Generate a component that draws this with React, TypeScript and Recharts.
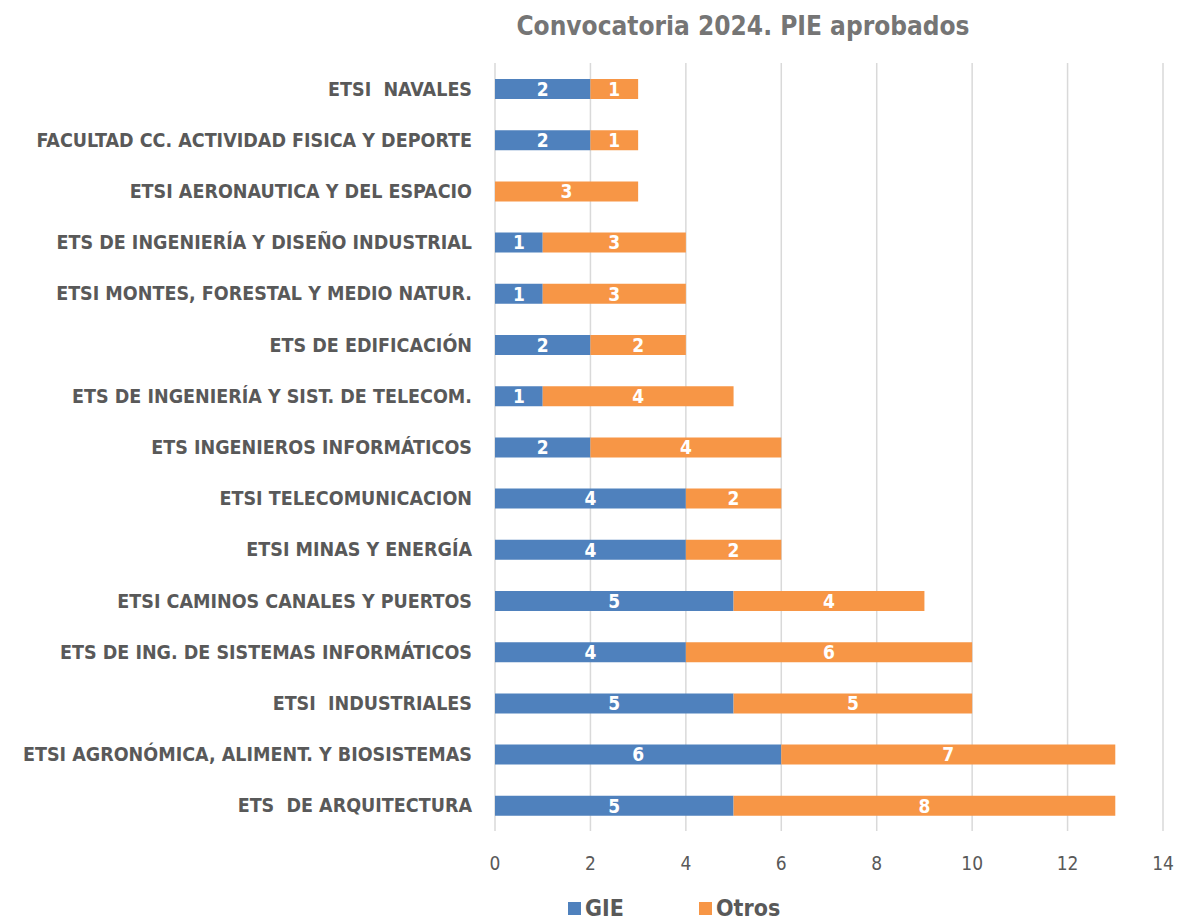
import { BarChart, Bar, XAxis, YAxis, CartesianGrid, Legend, LabelList } from "recharts";

const centros = [
  "ETSI  NAVALES",
  "FACULTAD CC. ACTIVIDAD FISICA Y DEPORTE",
  "ETSI AERONAUTICA Y DEL ESPACIO",
  "ETS DE INGENIERÍA Y DISEÑO INDUSTRIAL",
  "ETSI MONTES, FORESTAL Y MEDIO NATUR.",
  "ETS DE EDIFICACIÓN",
  "ETS DE INGENIERÍA Y SIST. DE TELECOM.",
  "ETS INGENIEROS INFORMÁTICOS",
  "ETSI TELECOMUNICACION",
  "ETSI MINAS Y ENERGÍA",
  "ETSI CAMINOS CANALES Y PUERTOS",
  "ETS DE ING. DE SISTEMAS INFORMÁTICOS",
  "ETSI  INDUSTRIALES",
  "ETSI AGRONÓMICA, ALIMENT. Y BIOSISTEMAS",
  "ETS  DE ARQUITECTURA",
];
const gie = [2, 2, 0, 1, 1, 2, 1, 2, 4, 4, 5, 4, 5, 6, 5];
const otros = [1, 1, 3, 3, 3, 2, 4, 4, 2, 2, 4, 6, 5, 7, 8];
const xTicks = [0, 2, 4, 6, 8, 10, 12, 14];

const FONT = "'DejaVu Sans Condensed', 'Liberation Sans', sans-serif";
const GRAY = "#595959";

// legend drawn by hand so the two items sit where the reference puts them
function LegendBox({ payload }: any) {
  return (
    <div style={{ display: "flex", height: 28, alignItems: "center", paddingLeft: 568, fontFamily: FONT }}>
      {(payload || []).map((p: any) => (
        <div key={p.value} style={{ display: "flex", alignItems: "center", width: 131 }}>
          <span style={{ width: 13, height: 13, background: p.color, marginRight: 4 }} />
          <span style={{ fontSize: 23, fontWeight: 700, color: GRAY }}>{p.value}</span>
        </div>
      ))}
    </div>
  );
}

// svg collapses double spaces, keep them with a no-break space
const keepSpaces = (v: string) => String(v).replace(/  /g, "\u00a0 ");

export default function App() {
  const data = centros.map((c, i) => ({ centro: c, GIE: gie[i], Otros: otros[i] }));

  return (
    <div style={{ position: "absolute", left: 0, top: 0, width: 1179, height: 922, background: "#fff", fontFamily: FONT }}>
      <div
        style={{
          position: "absolute",
          left: 443,
          width: 600,
          top: 11,
          textAlign: "center",
          fontSize: 26,
          fontWeight: 700,
          color: "#757575",
        }}
      >
        Convocatoria 2024. PIE aprobados
      </div>
      <BarChart
        width={1179}
        height={922}
        data={data}
        layout="vertical"
        barSize={20}
        margin={{ top: 63, right: 16, left: 0, bottom: 0 }}
      >
        <CartesianGrid horizontal={false} stroke="#d9d9d9" strokeWidth={1.5} />
        <XAxis
          type="number"
          domain={[0, 14]}
          ticks={xTicks}
          axisLine={false}
          tickLine={false}
          tickSize={0}
          tickMargin={26}
          height={63}
          tick={{ fill: GRAY, fontSize: 19, fontFamily: FONT }}
        />
        <YAxis
          type="category"
          dataKey="centro"
          width={495}
          axisLine={false}
          tickLine={false}
          tickSize={0}
          tickMargin={23}
          interval={0}
          tickFormatter={keepSpaces}
          tick={{ fill: GRAY, fontSize: 19.5, fontWeight: 700, fontFamily: FONT }}
        />
        <Legend verticalAlign="bottom" align="left" height={28} content={<LegendBox />} />
        <Bar dataKey="GIE" stackId="a" fill="#4F81BD" isAnimationActive={false}>
          <LabelList dataKey="GIE" position="center" fill="#fff" fontSize={19} fontWeight={700} fontFamily={FONT} />
        </Bar>
        <Bar dataKey="Otros" stackId="a" fill="#F79646" isAnimationActive={false}>
          <LabelList dataKey="Otros" position="center" fill="#fff" fontSize={19} fontWeight={700} fontFamily={FONT} />
        </Bar>
      </BarChart>
    </div>
  );
}
